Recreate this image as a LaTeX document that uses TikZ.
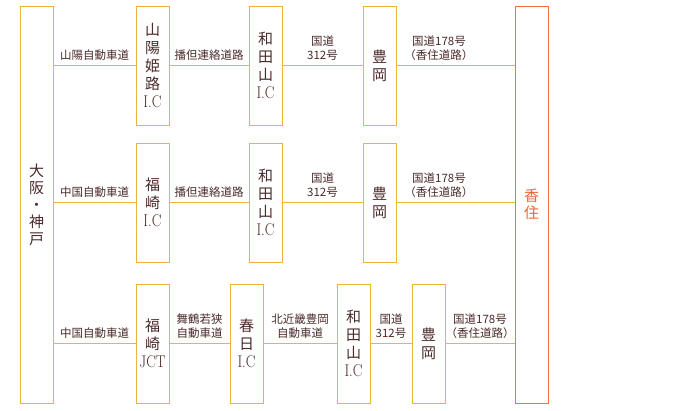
\documentclass[tikz,border=0pt]{standalone}
\usepackage{fontspec}
\usepackage{xcolor}
\usepackage{graphicx}
\usepackage{tikz}
\usetikzlibrary{positioning, calc}
\newfontfamily\cjk{Noto Sans CJK JP}
\definecolor{boxline}{HTML}{F0B33A}
\definecolor{endline}{HTML}{F2703F}
\definecolor{ink}{HTML}{4A2A2A}
\definecolor{endink}{HTML}{EE6530}
\tikzset{
    icbox/.style={
        rectangle, draw=boxline, line width=1pt,
        minimum width=33pt, minimum height=119pt,
        inner sep=0pt, align=center, text=ink,
        font=\fontsize{15}{18}\selectfont
    },
    citybox/.style={icbox, minimum height=397pt, font=\fontsize{15}{17}\selectfont},
    road/.style={draw=boxline, line width=1pt},
    lbl/.style={above=2.5pt, inner sep=2pt, align=center, text=ink,
        font=\cjk\fontsize{11.5}{14}\selectfont}
}
\newcommand{\kj}[1]{{\cjk #1}}
\newcommand{\lt}[1]{\scalebox{0.85}[1]{\fontsize{17}{18}\selectfont #1}}

\begin{document}
\begin{tikzpicture}[x=1pt, y=-1pt]
    \useasboundingbox (0,0) rectangle (680,410);
    % start and goal
    \node (osaka) [citybox] at (36.5,204.5) {\kj{大}\\\kj{阪}\\\kj{・}\\\kj{神}\\\kj{戸}};
    \node (kasumi) [citybox, draw=endline, text=endink] at (531.5,204.5) {\kj{香}\\\kj{住}};

    % route 1
    \node (himeji) [icbox] at (152.5,65.5) {\kj{山}\\\kj{陽}\\\kj{姫}\\\kj{路}\\\lt{I.C}};
    \node (wada1) [icbox] at (265.5,65.5) {\kj{和}\\\kj{田}\\\kj{山}\\\lt{I.C}};
    \node (toyo1) [icbox] at (379.5,65.5) {\kj{豊}\\\kj{岡}};

    % route 2
    \node (fuku) [icbox] at (152.5,202.5) {\kj{福}\\\kj{崎}\\\lt{I.C}};
    \node (wada2) [icbox] at (265.5,202.5) {\kj{和}\\\kj{田}\\\kj{山}\\\lt{I.C}};
    \node (toyo2) [icbox] at (379.5,202.5) {\kj{豊}\\\kj{岡}};

    % route 3
    \node (fukujct) [icbox] at (152.5,343.5) {\kj{福}\\\kj{崎}\\\lt{JCT}};
    \node (kasuga) [icbox] at (246.5,343.5) {\kj{春}\\\kj{日}\\\lt{I.C}};
    \node (wada3) [icbox] at (353.5,343.5) {\kj{和}\\\kj{田}\\\kj{山}\\\lt{I.C}};
    \node (toyo3) [icbox] at (428.5,343.5) {\kj{豊}\\\kj{岡}};

    \draw [road] (osaka.east |- himeji) -- node[lbl] {山陽自動車道} (himeji);
    \draw [road] (himeji) -- node[lbl] {播但連絡道路} (wada1);
    \draw [road] (wada1) -- node[lbl] {国道\\312号} (toyo1);
    \draw [road] (toyo1) -- node[lbl, pos=0.36] {国道178号\\（香住道路）} (kasumi.west |- toyo1);

    \draw [road] (osaka.east |- fuku) -- node[lbl] {中国自動車道} (fuku);
    \draw [road] (fuku) -- node[lbl] {播但連絡道路} (wada2);
    \draw [road] (wada2) -- node[lbl] {国道\\312号} (toyo2);
    \draw [road] (toyo2) -- node[lbl, pos=0.36] {国道178号\\（香住道路）} (kasumi.west |- toyo2);

    \draw [road] (osaka.east |- fukujct) -- node[lbl] {中国自動車道} (fukujct);
    \draw [road] (fukujct) -- node[lbl] {舞鶴若狭\\自動車道} (kasuga);
    \draw [road] (kasuga) -- node[lbl] {北近畿豊岡\\自動車道} (wada3);
    \draw [road] (wada3) -- node[lbl] {国道\\312号} (toyo3);
    \draw [road] (toyo3) -- node[lbl] {国道178号\\（香住道路）} (kasumi.west |- toyo3);
\end{tikzpicture}
\end{document}
